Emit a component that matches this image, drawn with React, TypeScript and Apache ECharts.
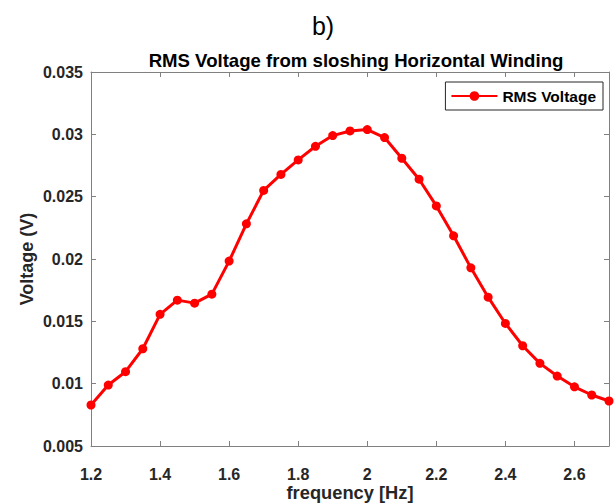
import React, { useEffect, useRef } from "react";
import * as echarts from "echarts";

const frequency = [1.2, 1.25, 1.3, 1.35, 1.4, 1.45, 1.5, 1.55, 1.6, 1.65, 1.7, 1.75, 1.8, 1.85, 1.9, 1.95, 2.0, 2.05, 2.1, 2.15, 2.2, 2.25, 2.3, 2.35, 2.4, 2.45, 2.5, 2.55, 2.6, 2.65, 2.7];
const rmsVoltage = [0.00829, 0.00989, 0.01096, 0.0128, 0.01556, 0.0167, 0.01646, 0.01718, 0.01983, 0.02282, 0.0255, 0.02678, 0.02795, 0.02904, 0.0299, 0.03027, 0.03038, 0.02974, 0.02808, 0.0264, 0.02426, 0.02186, 0.01929, 0.01694, 0.01483, 0.01304, 0.01163, 0.01061, 0.00975, 0.00909, 0.00861];

const FONT = "'Liberation Sans', Arial, sans-serif";
const AXIS_COLOR = "#262626";
const TICK_COLOR = "#808080";

export default function App() {
  const ref = useRef<HTMLDivElement>(null);
  useEffect(() => {
    if (!ref.current) return;
    const chart = echarts.init(ref.current, null, { renderer: "svg" });
    const fmtX = (v: number) => String(parseFloat(v.toFixed(2)));
    const fmtY = (v: number) => String(parseFloat(v.toFixed(3)));
    const axisLineStyle = { lineStyle: { color: TICK_COLOR, width: 1 } };
    chart.setOption({
      animation: false,
      backgroundColor: "#ffffff",
      textStyle: { fontFamily: FONT },
      title: [
        {
          text: "b)",
          left: 318,
          top: 8,
          textAlign: "center",
          textStyle: { fontFamily: FONT, fontSize: 25, fontWeight: "normal", color: "#000" },
        },
        {
          text: "RMS Voltage from sloshing Horizontal Winding",
          left: 351,
          top: 46,
          textAlign: "center",
          textStyle: { fontFamily: FONT, fontSize: 18.6, fontWeight: "bold", color: "#000" },
        },
      ],
      legend: {
        right: 12,
        top: 82,
        data: ["RMS Voltage"],
        itemWidth: 46,
        itemHeight: 12,
        itemGap: 5,
        padding: [6, 7, 6, 5],
        borderColor: AXIS_COLOR,
        borderWidth: 1,
        textStyle: { fontFamily: FONT, fontSize: 15.5, fontWeight: "bold", color: "#000", padding: [0, 0, 0, 0] },
      },
      grid: { left: 91, right: 6, top: 72, bottom: 58, outerBoundsMode: "none", containLabel: false },
      xAxis: [
        {
          type: "value",
          min: 1.2,
          max: 2.7,
          interval: 0.2,
          name: "frequency [Hz]",
          nameLocation: "middle",
          nameGap: 37,
          nameMoveOverlap: false,
          nameTextStyle: { fontFamily: FONT, fontSize: 18.3, fontWeight: "bold", color: AXIS_COLOR },
          axisLine: { show: true, onZero: false, ...axisLineStyle },
          axisTick: { show: true, inside: true, length: 5, ...axisLineStyle },
          axisLabel: {
            formatter: fmtX,
            showMaxLabel: false,
            margin: 20,
            fontFamily: FONT,
            fontSize: 16,
            fontWeight: "bold",
            color: AXIS_COLOR,
          },
          splitLine: { show: false },
        },
        {
          type: "value",
          position: "top",
          min: 1.2,
          max: 2.7,
          interval: 0.2,
          axisLine: { show: true, onZero: false, ...axisLineStyle },
          axisTick: { show: true, inside: true, length: 5, ...axisLineStyle },
          axisLabel: { show: false },
          splitLine: { show: false },
        },
      ],
      yAxis: [
        {
          type: "value",
          min: 0.005,
          max: 0.035,
          interval: 0.005,
          name: "Voltage (V)",
          nameLocation: "middle",
          nameGap: 55,
          nameMoveOverlap: false,
          nameTextStyle: { fontFamily: FONT, fontSize: 18, fontWeight: "bold", color: AXIS_COLOR },
          axisLine: { show: true, onZero: false, ...axisLineStyle },
          axisTick: { show: true, inside: true, length: 5, ...axisLineStyle },
          axisLabel: {
            formatter: fmtY,
            margin: 8,
            fontFamily: FONT,
            fontSize: 16,
            fontWeight: "bold",
            color: AXIS_COLOR,
          },
          splitLine: { show: false },
        },
        {
          type: "value",
          position: "right",
          min: 0.005,
          max: 0.035,
          interval: 0.005,
          axisLine: { show: true, onZero: false, ...axisLineStyle },
          axisTick: { show: true, inside: true, length: 5, ...axisLineStyle },
          axisLabel: { show: false },
          splitLine: { show: false },
        },
      ],
      series: [
        {
          name: "RMS Voltage",
          type: "line",
          xAxisIndex: 0,
          yAxisIndex: 0,
          data: frequency.map((f, i) => [f, rmsVoltage[i]]),
          symbol: "circle",
          symbolSize: 9,
          showAllSymbol: true,
          clip: false,
          lineStyle: { color: "#ff0000", width: 3 },
          itemStyle: { color: "#ff0000" },
        },
      ],
    });
    return () => chart.dispose();
  }, []);
  return <div ref={ref} style={{ width: 615, height: 504, position: "absolute", left: 0, top: 0 }} />;
}
